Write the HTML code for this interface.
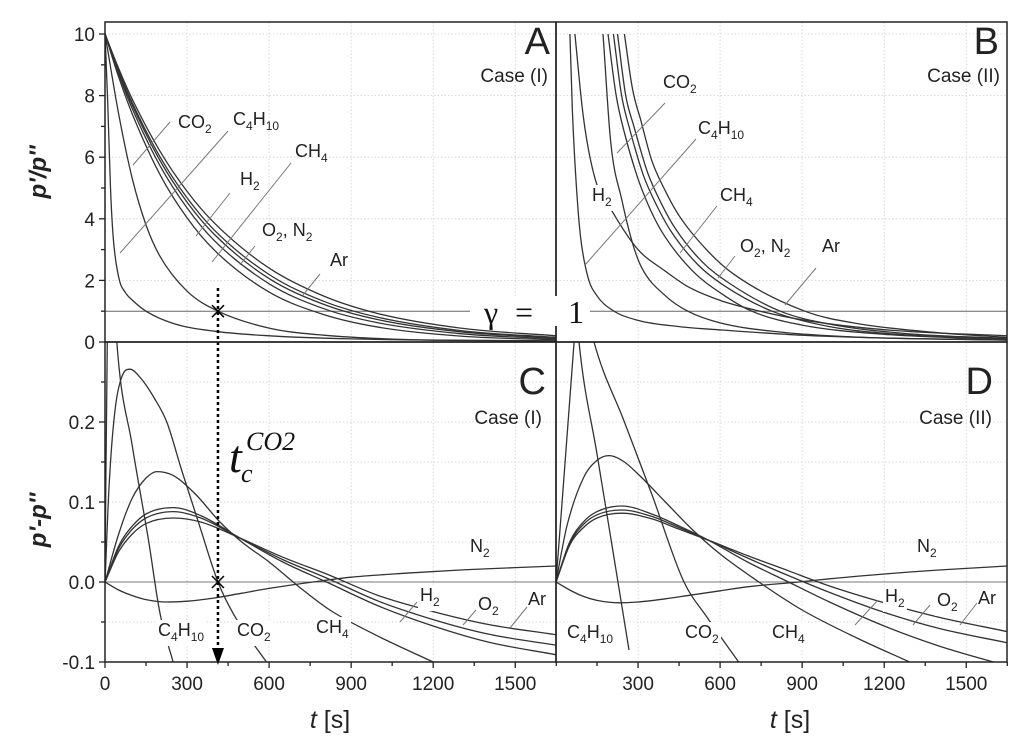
<!DOCTYPE html>
<html><head><meta charset="utf-8">
<style>
html,body{margin:0;padding:0;background:#fff;}
svg{display:block;font-family:"Liberation Sans",Arial,sans-serif;}
</style></head>
<body>
<svg id="chart" width="1024" height="752" viewBox="0 0 1024 752" xmlns="http://www.w3.org/2000/svg">
<defs>
<clipPath id="clipA"><rect x="105" y="22" width="451" height="320"/></clipPath>
<clipPath id="clipB"><rect x="556" y="22" width="451" height="320"/></clipPath>
<clipPath id="clipC"><rect x="105" y="342" width="451" height="320"/></clipPath>
<clipPath id="clipD"><rect x="556" y="342" width="451" height="320"/></clipPath>
</defs>
<g id="grid"></g>
<g id="curves"></g>
<g id="labels"></g>
<g id="axes"></g>
</svg>
<script>
// ---------- data (t in s) ----------
// Panel A: p'/p'' Case (I)
const aC4H10T=[0,10,20,30,50,75,100,150,250,400,600,900,1250,1650];
const aC4H10V=[10,7.8,5.0,3.4,2.1,1.6,1.36,1.0,0.6,0.35,0.2,0.1,0.06,0.04];
const aCO2T=[0,50,100,150,200,300,413,600,800,1100,1650];
const aCO2V=[10,7.4,5.3,3.8,2.8,1.65,1.0,0.45,0.22,0.08,0.03];
const aClusterT=[0,50,100,200,300,400,600,800,1000,1300,1650];
const aH2V=[10,8.6,7.4,5.45,4.03,2.98,1.62,0.89,0.48,0.19,0.07];
const aCH4V=[10,8.7,7.57,5.74,4.35,3.29,1.89,1.08,0.62,0.27,0.10];
const aO2V=[10,8.77,7.69,5.91,4.54,3.49,2.06,1.22,0.72,0.33,0.13];
const aN2V=[10,8.81,7.76,6.03,4.68,3.63,2.19,1.32,0.80,0.37,0.15];
const aArV=[10,8.88,7.88,6.21,4.89,3.86,2.40,1.49,0.92,0.45,0.20];
// Panel B: p'/p'' Case (II)
const bC4H10T=[51,60,75,90,117,150,205,300,450,607,900,1200,1650];
const bC4H10V=[10,7.5,5.0,3.4,2.1,1.5,1.04,0.7,0.5,0.39,0.22,0.13,0.07];
const bH2T=[69,100,143,208,300,400,482,600,727,900,1200,1650];
const bH2V=[10,7.3,5.3,4.2,3.0,2.3,1.8,1.35,1.04,0.72,0.4,0.2];
const bCO2T=[172,200,241,280,314,400,482,600,800,1100,1650];
const bCO2V=[10,6.5,4.6,3.2,2.4,1.5,1.0,0.62,0.34,0.16,0.06];
const bCH4T=[190,220,250,300,350,400,500,600,716,900,1200,1650];
const bCH4V=[10,8,6.8,5.3,4.2,3.4,2.3,1.6,1.0,0.55,0.25,0.08];
const bO2T=[210,240,270,320,370,420,520,620,790,1000,1300,1650];
const bO2V=[10,8,6.9,5.4,4.4,3.6,2.5,1.8,1.0,0.5,0.22,0.1];
const bN2T=[225,255,285,335,385,435,535,635,820,1000,1300,1650];
const bN2V=[10,8,7,5.5,4.5,3.7,2.6,1.9,1.0,0.58,0.26,0.12];
const bArT=[250,280,310,350,400,450,550,650,910,1100,1400,1650];
const bArV=[10,8.2,7.2,5.9,4.9,4.1,3.0,2.2,1.0,0.6,0.3,0.15];
// Panel C: p'-p'' Case (I)
const cC4H10T=[0,10,25,43,100,160,201,249];
const cC4H10V=[0,0.35,0.42,0.30,0.17,0.05,-0.039,-0.1];
const cCO2T=[0,15,35,60,91,130,180,226,280,347,413,468,590];
const cCO2V=[0,0.12,0.21,0.255,0.266,0.255,0.23,0.2,0.14,0.069,0,-0.039,-0.1];
const cCH4T=[0,50,100,150,190,250,330,420,500,600,724,822,1000,1200];
const cCH4V=[0,0.06,0.105,0.13,0.138,0.133,0.11,0.075,0.05,0.025,-0.01,-0.035,-0.068,-0.1];
const cClusterT=[0,50,100,150,250,350,493,650,810,1000,1200,1400,1650];
const cH2V=[0,0.045,0.07,0.085,0.093,0.083,0.055,0.025,0,-0.03,-0.055,-0.075,-0.091];
const cO2V=[0,0.042,0.066,0.08,0.088,0.08,0.055,0.028,0.005,-0.024,-0.047,-0.065,-0.079];
const cArV=[0,0.038,0.06,0.073,0.08,0.075,0.055,0.031,0.01,-0.017,-0.037,-0.053,-0.066];
const cN2T=[0,50,100,150,225,300,400,500,600,760,900,1100,1300,1500,1650];
const cN2V=[0,-0.01,-0.017,-0.022,-0.025,-0.024,-0.02,-0.014,-0.008,0,0.006,0.011,0.015,0.018,0.02];
// Panel D: p'-p'' Case (II)
const dC4H10T=[0,20,40,66,75,84,150,210,267];
const dC4H10V=[0,0.09,0.18,0.3,0.34,0.3,0.16,0.035,-0.085];
const dCO2T=[120,139,250,350,468,552,668];
const dCO2V=[0.33,0.3,0.2,0.11,0,-0.044,-0.1];
const dCH4T=[0,40,100,150,194,250,300,400,500,600,742,900,1100,1293];
const dCH4V=[0,0.07,0.13,0.152,0.158,0.15,0.135,0.1,0.065,0.035,0,-0.035,-0.07,-0.1];
const dClusterT=[0,50,100,150,241,350,450,559,700,850,1000,1200,1400,1650];
const dH2V=[0,0.05,0.075,0.088,0.095,0.085,0.07,0.052,0.025,0,-0.025,-0.055,-0.08,-0.105];
const dO2V=[0,0.048,0.072,0.084,0.09,0.082,0.068,0.052,0.03,0.008,-0.013,-0.038,-0.058,-0.076];
const dArV=[0,0.046,0.068,0.08,0.086,0.079,0.066,0.052,0.033,0.014,-0.005,-0.026,-0.044,-0.062];
const dN2T=[0,50,100,150,230,300,400,500,600,700,888,1000,1200,1400,1650];
const dN2V=[0,-0.01,-0.018,-0.023,-0.026,-0.025,-0.021,-0.016,-0.011,-0.006,0,0.004,0.01,0.015,0.02];
// ticks
const xTicks=[0,300,600,900,1200,1500];
const xTickLabels=["0","300","600","900","1200","1500"];
const yTicksA=[0,2,4,6,8,10];
const yTickLabelsA=["0","2","4","6","8","10"];
const yTicksC=[-0.1,0,0.1,0.2];
const yTickLabelsC=["-0.1","0.0","0.1","0.2"];
const tcCO2=413;

// ---------- scales ----------
const XS=0.2735;
const xL=t=>105+t*XS, xR=t=>556+t*XS;
const yTop=v=>342-v*30.8, yBot=v=>582-v*800;
const NS="http://www.w3.org/2000/svg";
function mk(tag,attrs,parent){const e=document.createElementNS(NS,tag);for(const k in attrs)e.setAttribute(k,attrs[k]);parent.appendChild(e);return e;}
const gridG=document.getElementById('grid'),curG=document.getElementById('curves'),labG=document.getElementById('labels'),axG=document.getElementById('axes');

function monoPath(px,py){
  const n=px.length; if(n<2)return '';
  const d=[],m=[];
  for(let i=0;i<n-1;i++)d.push((py[i+1]-py[i])/(px[i+1]-px[i]));
  m[0]=d[0];m[n-1]=d[n-2];
  for(let i=1;i<n-1;i++){m[i]=(d[i-1]*d[i]<=0)?0:(d[i-1]+d[i])/2;}
  for(let i=0;i<n-1;i++){if(d[i]===0){m[i]=0;m[i+1]=0;continue;}
    const a=m[i]/d[i],b=m[i+1]/d[i],s=a*a+b*b;if(s>9){const k=3/Math.sqrt(s);m[i]=k*a*d[i];m[i+1]=k*b*d[i];}}
  let p='M'+px[0].toFixed(1)+','+py[0].toFixed(1);
  for(let i=0;i<n-1;i++){const h=(px[i+1]-px[i])/3;
    p+=' C'+(px[i]+h).toFixed(1)+','+(py[i]+m[i]*h).toFixed(1)+' '+(px[i+1]-h).toFixed(1)+','+(py[i+1]-m[i+1]*h).toFixed(1)+' '+px[i+1].toFixed(1)+','+py[i+1].toFixed(1);}
  return p;
}
function curve(ts,vs,xf,yf,clip,name){
  const e=mk('path',{d:monoPath(ts.map(xf),vs.map(yf)),fill:'none',stroke:'#333','stroke-width':1.3,'clip-path':'url(#'+clip+')'},curG);
  
  
}
function gridPanel(xf,x0,x1,y0,y1,yf,yvals){
  xTicks.slice(1).forEach(t=>{const l=mk('line',{x1:xf(t),x2:xf(t),y1:y0,y2:y1,stroke:'#d0d0d0','stroke-dasharray':'1.5,2','stroke-width':0.8},gridG);
    
    });
  yvals.forEach(v=>{const l=mk('line',{x1:x0,x2:x1,y1:yf(v),y2:yf(v),stroke:'#d0d0d0','stroke-dasharray':'1.5,2','stroke-width':0.8},gridG);
    
    });
}
gridPanel(xL,105,556,22,342,yTop,[2,4,6,8,10]);
gridPanel(xR,556,1007,22,342,yTop,[2,4,6,8,10]);
gridPanel(xL,105,556,342,662,yBot,[-0.05,0.05,0.1,0.15,0.2,0.25]);
gridPanel(xR,556,1007,342,662,yBot,[-0.05,0.05,0.1,0.15,0.2,0.25]);

[[105,470],[590,1007]].forEach(s=>{const l=mk('line',{x1:s[0],x2:s[1],y1:yTop(1),y2:yTop(1),stroke:'#666','stroke-width':1},curG);
  
  });
[[105,556],[556,1007]].forEach(s=>{const l=mk('line',{x1:s[0],x2:s[1],y1:yBot(0),y2:yBot(0),stroke:'#777','stroke-width':1},curG);
  
  });

curve(aC4H10T,aC4H10V,xL,yTop,'clipA','a-c4h10-curve');
curve(aCO2T,aCO2V,xL,yTop,'clipA','a-co2-curve');
curve(aClusterT,aH2V,xL,yTop,'clipA','a-h2-curve');
curve(aClusterT,aCH4V,xL,yTop,'clipA','a-ch4-curve');
curve(aClusterT,aO2V,xL,yTop,'clipA','a-o2-curve');
curve(aClusterT,aN2V,xL,yTop,'clipA','a-n2-curve');
curve(aClusterT,aArV,xL,yTop,'clipA','a-ar-curve');
curve(bC4H10T,bC4H10V,xR,yTop,'clipB','b-c4h10-curve');
curve(bH2T,bH2V,xR,yTop,'clipB','b-h2-curve');
curve(bCO2T,bCO2V,xR,yTop,'clipB','b-co2-curve');
curve(bCH4T,bCH4V,xR,yTop,'clipB','b-ch4-curve');
curve(bO2T,bO2V,xR,yTop,'clipB','b-o2-curve');
curve(bN2T,bN2V,xR,yTop,'clipB','b-n2-curve');
curve(bArT,bArV,xR,yTop,'clipB','b-ar-curve');
curve(cC4H10T,cC4H10V,xL,yBot,'clipC','c-c4h10-curve');
curve(cCO2T,cCO2V,xL,yBot,'clipC','c-co2-curve');
curve(cCH4T,cCH4V,xL,yBot,'clipC','c-ch4-curve');
curve(cClusterT,cH2V,xL,yBot,'clipC','c-h2-curve');
curve(cClusterT,cO2V,xL,yBot,'clipC','c-o2-curve');
curve(cClusterT,cArV,xL,yBot,'clipC','c-ar-curve');
curve(cN2T,cN2V,xL,yBot,'clipC','c-n2-curve');
curve(dC4H10T,dC4H10V,xR,yBot,'clipD','d-c4h10-curve');
curve(dCO2T,dCO2V,xR,yBot,'clipD','d-co2-curve');
curve(dCH4T,dCH4V,xR,yBot,'clipD','d-ch4-curve');
curve(dClusterT,dH2V,xR,yBot,'clipD','d-h2-curve');
curve(dClusterT,dO2V,xR,yBot,'clipD','d-o2-curve');
curve(dClusterT,dArV,xR,yBot,'clipD','d-ar-curve');
curve(dN2T,dN2V,xR,yBot,'clipD','d-n2-curve');

function chem(x,y,parts,name,bg){
  const g=mk('g',{},labG);
  
  
  const t=mk('text',{x:x,y:y,'font-size':18,fill:'#222'},g);
  parts.forEach(p=>{const s=mk('tspan',{},t);s.textContent=p[0];
    if(p[1]==='sub'){s.setAttribute('font-size',12);s.setAttribute('dy',5);}
    else if(p[1]==='back'){s.setAttribute('dy',-5);}
  });
  if(bg){const b=t.getBBox();const r=document.createElementNS(NS,'rect');
    r.setAttribute('x',b.x-2);r.setAttribute('y',b.y);r.setAttribute('width',b.width+4);r.setAttribute('height',b.height+2);r.setAttribute('fill','#fff');g.insertBefore(r,t);}
}
function leader(x1,y1,x2,y2){const l=mk('line',{x1:x1,y1:y1,x2:x2,y2:y2,stroke:'#777','stroke-width':1},labG);
  
  }
chem(178,128,[['CO'],['2','sub']],'a-co2-label');leader(170,122,133,165);
chem(233,125,[['C'],['4','sub'],['H','back'],['10','sub']],'a-c4h10-label');leader(228,131,120,253);
chem(295,157,[['CH'],['4','sub']],'a-ch4-label');leader(291,163,212,262);
chem(240,185,[['H'],['2','sub']],'a-h2-label');leader(230,193,196,236);
chem(262,236,[['O'],['2','sub'],[', N','back'],['2','sub']],'a-o2-n2-label');leader(255,246,240,265);
chem(330,266,[['Ar']],'a-ar-label');leader(320,274,303,295);
chem(663,88,[['CO'],['2','sub']],'b-co2-label');leader(665,103,617,153);
chem(698,134,[['C'],['4','sub'],['H','back'],['10','sub']],'b-c4h10-label');leader(696,139,585,265);
chem(592,201,[['H'],['2','sub']],'b-h2-label',true);
chem(720,201,[['CH'],['4','sub']],'b-ch4-label');leader(717,206,680,253);
chem(740,252,[['O'],['2','sub'],[', N','back'],['2','sub']],'b-o2-n2-label');leader(735,256,718,278);
chem(822,252,[['Ar']],'b-ar-label');leader(816,268,785,305);
chem(470,552,[['N'],['2','sub']],'c-n2-label');
chem(420,601,[['H'],['2','sub']],'c-h2-label',true);leader(417,602,400,622);
chem(478,610,[['O'],['2','sub']],'c-o2-label',true);leader(476,610,463,625);
chem(528,605,[['Ar']],'c-ar-label',true);leader(527,607,510,628);
chem(158,636,[['C'],['4','sub'],['H','back'],['10','sub']],'c-c4h10-label',true);
chem(237,636,[['CO'],['2','sub']],'c-co2-label',true);
chem(316,633,[['CH'],['4','sub']],'c-ch4-label',true);
chem(917,552,[['N'],['2','sub']],'d-n2-label');
chem(885,602,[['H'],['2','sub']],'d-h2-label',true);leader(878,600,855,625);
chem(937,606,[['O'],['2','sub']],'d-o2-label',true);leader(930,605,913,625);
chem(978,604,[['Ar']],'d-ar-label',true);leader(977,603,960,625);
chem(567,638,[['C'],['4','sub'],['H','back'],['10','sub']],'d-c4h10-label',true);
chem(685,638,[['CO'],['2','sub']],'d-co2-label',true);
chem(772,638,[['CH'],['4','sub']],'d-ch4-label',true);

const tx=xL(tcCO2);
const arr=mk('line',{x1:tx,x2:tx,y1:288,y2:650,stroke:'#000','stroke-width':2.5,'stroke-dasharray':'3,3'},labG);


const head=mk('polygon',{points:(tx-6)+',648 '+(tx+6)+',648 '+tx+',665',fill:'#000'},labG);


[[yTop(1)],[yBot(0)]].forEach(p=>{const y=p[0];
  const m=mk('path',{d:'M'+(tx-6)+','+(y-6)+'L'+(tx+6)+','+(y+6)+'M'+(tx-6)+','+(y+6)+'L'+(tx+6)+','+(y-6),stroke:'#000','stroke-width':1.5},labG);
  
  });

[[105,22],[556,22],[105,342],[556,342]].forEach(p=>{const r=mk('rect',{x:p[0],y:p[1],width:451,height:320,fill:'none',stroke:'#222','stroke-width':1.5},axG);
  
  });
function tick(x1,y1,x2,y2){const l=mk('line',{x1:x1,y1:y1,x2:x2,y2:y2,stroke:'#222','stroke-width':1.3},axG);
  
  }
function txt(x,y,s,anchor,size,name){const t=mk('text',{x:x,y:y,'text-anchor':anchor,'font-size':size,fill:'#222'},axG);t.textContent=s;
  
  return t;}
[xL,xR].forEach((xf,pi)=>{
  for(let t=0;t<=1650;t+=150){if(pi===1&&t===0)continue;tick(xf(t),662,xf(t),t%300===0?668:666);}
  xTicks.forEach((t,i)=>{if(pi===1&&i===0)return;txt(xf(t),690,xTickLabels[i],'middle',19,'x-tick-label');});
});
for(let v=0;v<=10;v++)tick(105,yTop(v),v%2===0?99:101,yTop(v));
yTicksA.forEach((v,i)=>txt(95,yTop(v)+7,yTickLabelsA[i],'end',19,'y-tick-label-top'));
for(let k=-2;k<=5;k++){const v=k*0.05;tick(105,yBot(v),k%2===0?99:101,yBot(v));}
yTicksC.forEach((v,i)=>txt(95,yBot(v)+7,yTickLabelsC[i],'end',19,'y-tick-label-bottom'));

txt(550,54,'A','end',38,'panel-a-letter');txt(548,82,'Case (I)','end',19,'panel-a-case');
txt(999,54,'B','end',38,'panel-b-letter');txt(1000,82,'Case (II)','end',19,'panel-b-case');
txt(546,394,'C','end',38,'panel-c-letter');txt(542,424,'Case (I)','end',19,'panel-c-case');
txt(993,394,'D','end',38,'panel-d-letter');txt(992,424,'Case (II)','end',19,'panel-d-case');
</script>
<script>
(function(){
const svg=document.getElementById('chart');
svg.insertAdjacentHTML('beforeend',
 '<rect x="474" y="296" width="114" height="30" fill="#fff"/>'+
 '<text font-family="Liberation Serif, serif" font-size="32" fill="#111"><tspan x="484" y="323">γ</tspan><tspan x="515" y="323">=</tspan><tspan x="568" y="323">1</tspan></text>'+
 '<text font-family="Liberation Serif, serif" font-style="italic" fill="#111"><tspan x="229" y="472" font-size="46">t</tspan><tspan x="241" y="482" font-size="26">c</tspan><tspan x="246" y="450" font-size="26">CO2</tspan></text>'+
 '<text transform="translate(46,172) rotate(-90)" text-anchor="middle" font-size="24" font-weight="bold" font-style="italic" fill="#222">p\'/p\'\'</text>'+
 '<text transform="translate(46,520) rotate(-90)" text-anchor="middle" font-size="24" font-weight="bold" font-style="italic" fill="#222">p\'-p\'\'</text>'+
 '<text x="330" y="728" text-anchor="middle" font-size="25" fill="#222"><tspan font-style="italic">t</tspan> [s]</text>'+
 '<text x="790" y="728" text-anchor="middle" font-size="25" fill="#222"><tspan font-style="italic">t</tspan> [s]</text>');
})();
</script>
</body></html>
